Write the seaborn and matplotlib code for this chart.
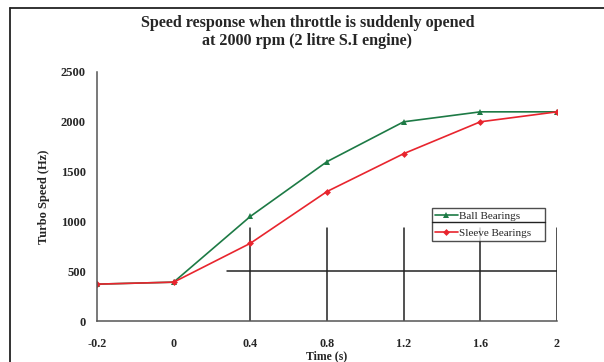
import matplotlib
matplotlib.use("Agg")
import matplotlib.pyplot as plt
import seaborn as sns
import pandas as pd
from matplotlib.lines import Line2D

times = ["-0.2", "0", "0.4", "0.8", "1.2", "1.6", "2"]
ball = [370, 390, 1050, 1600, 2000, 2100, 2100]
sleeve = [370, 390, 780, 1300, 1680, 2000, 2100]
yticks = [0, 500, 1000, 1500, 2000, 2500]

sns.set_theme(style="white")
plt.rcParams['font.family'] = ['Liberation Serif', 'DejaVu Serif']

fig = plt.figure(figsize=(6.04, 3.62), dpi=100)
ax = fig.add_axes([97/604, 41/362, 460/604, 249/362])

pos = list(range(len(times)))
df = pd.DataFrame({"pos": pos * 2, "speed": ball + sleeve,
                   "series": ["Ball Bearings"] * len(pos) + ["Sleeve Bearings"] * len(pos)})

green = "#1d7a45"
red = "#e8252e"
sns.lineplot(data=df[df.series == "Ball Bearings"], x="pos", y="speed", color=green,
             marker="^", markersize=4, markeredgewidth=0, linewidth=1.2, ax=ax,
             label="Ball Bearings")
sns.lineplot(data=df[df.series == "Sleeve Bearings"], x="pos", y="speed", color=red,
             marker="D", markersize=3.5, markeredgewidth=0, linewidth=1.2, ax=ax,
             label="Sleeve Bearings")

# stray drawing lines present in the original
for p in pos[2:]:
    ax.plot([p, p], [0, 935], color="#222222", linewidth=1.1, zorder=1)
ax.plot([1.7, 6], [500, 500], color="#222222", linewidth=1.1, zorder=1)

ax.set_xlim(0, 6)
ax.set_ylim(0, 2500)
ax.set_xticks(pos)
ax.set_xticklabels(times, fontsize=8.7, fontweight="bold")
ax.set_yticks(yticks)
ax.set_yticklabels([str(v) for v in yticks], fontsize=9, fontweight="bold")
ax.tick_params(axis="both", direction="out", length=4, width=1, color="#555555")
ax.tick_params(axis="x", pad=8)
ax.tick_params(axis="y", pad=4)
for s in ["top", "right"]:
    ax.spines[s].set_visible(False)
for s in ["left", "bottom"]:
    ax.spines[s].set_color("#555555")
    ax.spines[s].set_linewidth(1.1)
ax.set_xlabel("Time (s)", fontsize=8.5, fontweight="bold", labelpad=0.3)
ax.set_ylabel("Turbo Speed (Hz)", fontsize=9, fontweight="bold", labelpad=8)

x0 = (432 - 97) / 460
y1 = (321 - 208) / 249
w = 113 / 460
h = 34 / 249
leg = ax.legend(loc="upper left", bbox_to_anchor=(x0, y1 - h, w, h), mode="expand",
                frameon=True, fancybox=False, fontsize=8, handlelength=2.0,
                handletextpad=0.1, borderpad=0.3, labelspacing=0.6,
                borderaxespad=0)
leg.get_frame().set_edgecolor("#222222")
leg.get_frame().set_linewidth(1.0)
fig.add_artist(Line2D([432/604, 545/604], [1-221.5/362, 1-221.5/362], color="#222222", linewidth=1.0))

fig.text(307.5/604, 1-32.2/362, "Speed response when throttle is suddenly opened\nat 2000 rpm (2 litre S.I engine)",
         ha="center", va="center", fontsize=11.6, fontweight="bold", linespacing=1.18)

# figure border (top and left)
fig.add_artist(Line2D([10/604, 1], [1-7.5/362, 1-7.5/362], color="#222222", linewidth=1.3))
fig.add_artist(Line2D([10/604, 10/604], [0, 1-7.5/362], color="#222222", linewidth=1.3))

fig.savefig("out.png", dpi=100, facecolor="white")
